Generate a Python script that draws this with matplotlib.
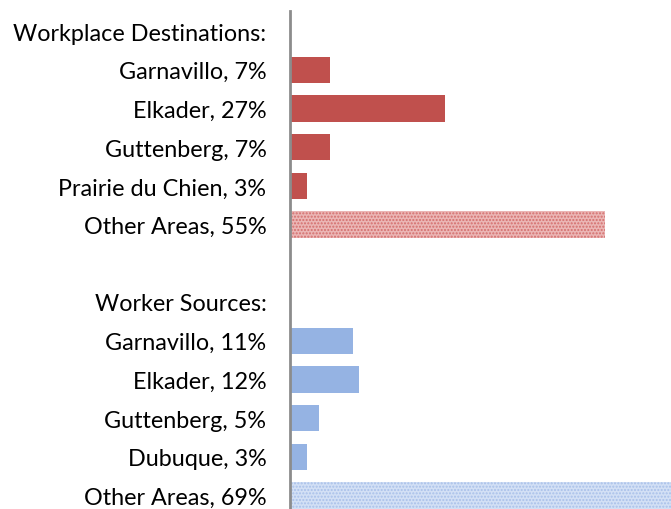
import numpy as np
import matplotlib.pyplot as plt

labels = ['Workplace Destinations:', 'Garnavillo, 7%', 'Elkader, 27%', 'Guttenberg, 7%',
          'Prairie du Chien, 3%', 'Other Areas, 55%', '',
          'Worker Sources:', 'Garnavillo, 11%', 'Elkader, 12%', 'Guttenberg, 5%',
          'Dubuque, 3%', 'Other Areas, 69%']
dest_vals = [7, 27, 7, 3, 55]
src_vals = [11, 12, 5, 3, 69]

red = '#C0504D'
blue = '#95B3E3'

fig = plt.figure(figsize=(6.71, 5.10), dpi=100)
ax = fig.add_axes([290 / 671, 0, 381 / 671, 498 / 510])

y = np.arange(len(labels))
dest_y = y[1:6]
src_y = y[8:13]

ax.barh(dest_y[:4], dest_vals[:4], height=0.68, color=red)
ax.barh(dest_y[4], dest_vals[4], height=0.68, color='#EBB6B5', edgecolor='#D46E6C',
        hatch='.....', linewidth=0)
ax.barh(src_y[:4], src_vals[:4], height=0.68, color=blue)
ax.barh(src_y[4], src_vals[4], height=0.68, color='#D3E0F5', edgecolor='#A8C0EA',
        hatch='.....', linewidth=0)

ax.set_yticks(y)
ax.set_yticklabels(labels, fontsize=16.8, family='Lato')
ax.tick_params(axis='y', length=0, pad=17)
ax.set_ylim(12.35, -0.52)
ax.set_xlim(0, 66.5)
ax.set_xticks([])
for s in ['top', 'right', 'bottom']:
    ax.spines[s].set_visible(False)
ax.spines['left'].set_color('#8C8C8C')
ax.spines['left'].set_linewidth(2)

fig.savefig('out.png', dpi=100)
